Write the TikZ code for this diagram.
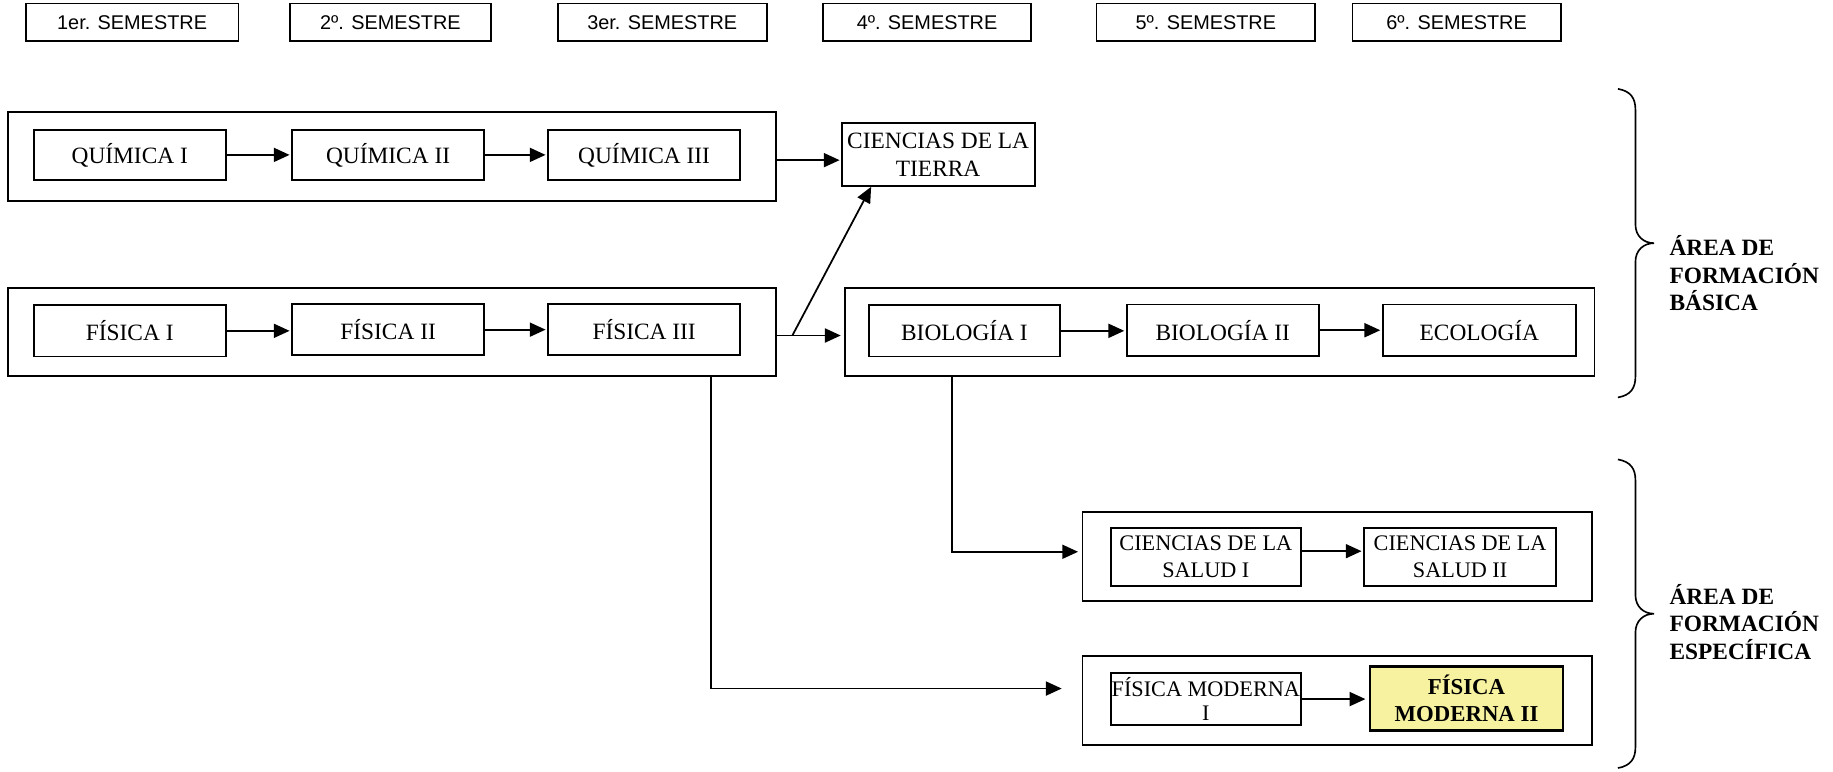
\documentclass[tikz,border=0pt]{standalone}
\usepackage{fontspec}
\setmainfont{Liberation Serif}
\newfontfamily\arialfont{Liberation Sans}
\usetikzlibrary{arrows.meta}
\definecolor{paleyellow}{RGB}{246,242,160}
\tikzset{
  box/.style={draw, line width=1.6pt, inner sep=0pt, align=center, font=\fontsize{20}{24}\selectfont},
  sem/.style={draw, line width=1.5pt, inner sep=0pt, minimum height=32pt, font=\arialfont\fontsize{17}{20}\selectfont},
  outer/.style={draw, line width=1.6pt, inner sep=0pt, minimum height=76pt},
  arr/.style={line width=1.5pt, -{Triangle[length=13.5pt,width=12pt]}},
  ln/.style={line width=1.4pt},
  area/.style={anchor=west, align=left, inner sep=0pt, font=\bfseries\fontsize{20}{23.5}\selectfont},
}
\begin{document}
\begin{tikzpicture}[x=1pt,y=1pt]
\useasboundingbox (0,0) rectangle (1568,-660);
% semesters
\node[sem, minimum width=182pt] (s1) at (113,-19) {1er. SEMESTRE};
\node[sem, minimum width=172pt] (s2) at (334,-19) {2º. SEMESTRE};
\node[sem, minimum width=179pt] (s3) at (566.5,-19) {3er. SEMESTRE};
\node[sem, minimum width=178pt] (s4) at (793,-19) {4º. SEMESTRE};
\node[sem, minimum width=187pt] (s5) at (1031.5,-19) {5º. SEMESTRE};
\node[sem, minimum width=178pt] (s6) at (1246,-19) {6º. SEMESTRE};
% outer boxes
\node[outer, minimum width=657pt] (qouter) at (335.5,-134) {};
\node[outer, minimum width=657pt] (fouter) at (335.5,-284) {};
\node[outer, minimum width=641pt] (bouter) at (1043.5,-284) {};
\node[outer, minimum width=436pt] (souter) at (1144,-476) {};
\node[outer, minimum width=436pt] (fmouter) at (1144,-599) {};
% quimica
\node[box, minimum width=164pt, minimum height=43pt] (q1) at (111,-132.5) {QUÍMICA I};
\node[box, minimum width=164pt, minimum height=43pt] (q2) at (332,-132.5) {QUÍMICA II};
\node[box, minimum width=164pt, minimum height=43pt] (q3) at (551,-132.5) {QUÍMICA III};
\node[box, minimum width=165pt, minimum height=54pt] (ct) at (802.5,-132) {CIENCIAS DE LA\\TIERRA};
% fisica
\node[box, minimum width=164pt, minimum height=44pt] (f1) at (111,-283) {FÍSICA I};
\node[box, minimum width=164pt, minimum height=44pt] (f2) at (332,-282) {FÍSICA II};
\node[box, minimum width=164pt, minimum height=44pt] (f3) at (551,-282) {FÍSICA III};
% biologia
\node[box, minimum width=164pt, minimum height=44pt] (b1) at (825,-283) {BIOLOGÍA I};
\node[box, minimum width=164pt, minimum height=44pt] (b2) at (1046,-282.5) {BIOLOGÍA II};
\node[box, minimum width=165pt, minimum height=44pt] (eco) at (1265.5,-282.5) {ECOLOGÍA};
% salud
\node[box, minimum width=163pt, minimum height=49pt, font=\fontsize{19}{23}\selectfont] (cs1) at (1031.5,-476.5) {CIENCIAS DE LA\\SALUD I};
\node[box, minimum width=164pt, minimum height=49pt, font=\fontsize{19}{23}\selectfont] (cs2) at (1249,-476.5) {CIENCIAS DE LA\\SALUD II};
% fisica moderna
\node[box, minimum width=163pt, minimum height=44pt, font=\fontsize{19}{21}\selectfont] (fm1) at (1031.5,-598) {FÍSICA MODERNA\\I};
\node[box, minimum width=165pt, minimum height=55pt, fill=paleyellow, line width=2pt, font=\bfseries\fontsize{19.5}{23}\selectfont] (fm2) at (1254.5,-597.5) {FÍSICA\\MODERNA II};
% arrows inside rows
\draw[arr, shorten >=1.5pt] (q1.east) -- (q2.west);
\draw[arr, shorten >=1.5pt] (q2.east) -- (q3.west);
\draw[arr, shorten >=1.5pt] (f1.east) -- (f2.west |- f1.east);
\draw[arr, shorten >=1.5pt] (f2.east) -- (f3.west);
\draw[arr, shorten >=1.5pt] (b1.east) -- (b2.west |- b1.east);
\draw[arr, shorten >=1.5pt] (b2.east) -- (eco.west);
\draw[arr, shorten >=1.5pt] ([yshift=5pt]cs1.east) -- ([yshift=5pt]cs2.west);
\draw[arr, shorten >=3pt] (fm1.east) -- (fm2.west |- fm1.east);
% between groups
\coordinate (qo) at ([yshift=-3pt]qouter.east);
\coordinate (fo) at ([yshift=-3pt]fouter.east);
\draw[arr, shorten >=1pt] (qo) -- (ct.west |- qo);
\draw[arr, shorten >=3pt] (fo) -- (bouter.west |- fo);
\coordinate (br) at ([xshift=13pt]fo);
\draw[arr] (br) -- ([xshift=26pt]ct.south west);
\draw[arr, shorten >=3pt] ([xshift=92pt]bouter.south west) |- ([yshift=4pt]souter.west);
\draw[arr, shorten >=17pt] ([xshift=602pt]fouter.south west) |- ([yshift=10pt]fmouter.west);
% braces
\draw[ln] (1384,-76) .. controls (1395,-78) and (1399,-84) .. (1399,-94)
  -- (1399,-192) .. controls (1399,-202) and (1406,-208) .. (1415,-208)
  .. controls (1406,-208) and (1399,-214) .. (1399,-224)
  -- (1399,-322) .. controls (1399,-332) and (1395,-338) .. (1384,-340);
\draw[ln] (1384,-393) .. controls (1395,-395) and (1399,-401) .. (1399,-411)
  -- (1399,-509) .. controls (1399,-519) and (1406,-525) .. (1415,-525)
  .. controls (1406,-525) and (1399,-531) .. (1399,-541)
  -- (1399,-639) .. controls (1399,-649) and (1395,-655) .. (1384,-657);
\node[area] (basica) at (1428,-234) {ÁREA DE\\FORMACIÓN\\BÁSICA};
\node[area] (especifica) at (1428,-532) {ÁREA DE\\FORMACIÓN\\ESPECÍFICA};
\end{tikzpicture}
\end{document}
